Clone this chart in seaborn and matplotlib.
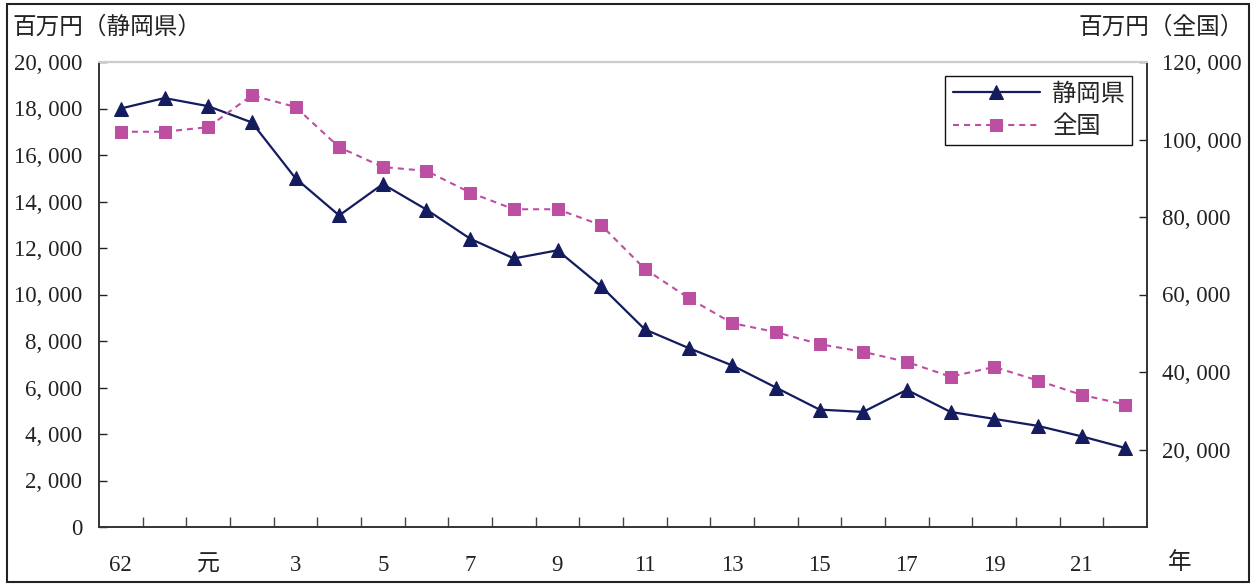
import matplotlib
matplotlib.use("Agg")
import matplotlib.pyplot as plt
from matplotlib.patches import Rectangle
from matplotlib.ticker import FixedLocator, FuncFormatter
import numpy as np
import pandas as pd
import seaborn as sns

# Fiscal years (Showa 62 .. Heisei 22)
years = ["62", "63", "元", "2", "3", "4", "5", "6", "7", "8", "9", "10",
         "11", "12", "13", "14", "15", "16", "17", "18", "19", "20", "21", "22"]

# Millions of yen
shizuoka = [18000, 18450, 18100, 17400, 15000, 13400, 14750, 13650, 12400,
            11550, 11900, 10350, 8500, 7700, 6950, 6000, 5050, 4950, 5900,
            4950, 4650, 4350, 3900, 3400]
national = [102000, 102000, 103200, 111400, 108400, 98000, 92900, 91900,
            86300, 82000, 82000, 77900, 66600, 59100, 52600, 50300, 47200,
            45200, 42600, 38800, 41300, 37800, 34100, 31600]

left_label = "百万円（静岡県）"
right_label = "百万円（全国）"
year_unit = "年"
series_names = ["静岡県", "全国"]

NAVY = "#141B5E"
MAGENTA = "#BD4FA3"
INK = "#222222"

sns.set_theme(style="white")
plt.rcParams["font.family"] = ["Liberation Serif", "Noto Sans CJK JP"]
plt.rcParams["axes.unicode_minus"] = False

df = pd.DataFrame({"pos": np.arange(len(years)), "year": years,
                   "shizuoka": shizuoka, "national": national})

fig = plt.figure(figsize=(12.57, 5.84), dpi=100)
ax = fig.add_axes([99 / 1257, 1 - 527 / 584, 1048 / 1257, 465 / 584])
ax2 = ax.twinx()

sns.lineplot(data=df, x="pos", y="shizuoka", ax=ax, color=NAVY, lw=1.6,
             marker="^", markersize=10.5, markeredgecolor=NAVY,
             label=series_names[0], legend=False)
sns.lineplot(data=df, x="pos", y="national", ax=ax2, color=MAGENTA, lw=1.5,
             linestyle=(0, (2.9, 2.4)), marker="s", markersize=8.5,
             markeredgecolor=MAGENTA, label=series_names[1], legend=False)

n = len(years)
for a in (ax, ax2):
    a.set_xlim(-0.5, n - 0.5)
    a.set_xlabel("")
    a.set_ylabel("")

ax.set_ylim(0, 20000)
ax2.set_ylim(0, 120000)

fmt = FuncFormatter(lambda v, p: f"{int(v):,}".replace(",", ", "))
ax.yaxis.set_major_locator(FixedLocator(np.arange(0, 20001, 2000)))
ax.yaxis.set_major_formatter(fmt)
ax2.yaxis.set_major_locator(FixedLocator(np.arange(20000, 120001, 20000)))
ax2.yaxis.set_major_formatter(fmt)

# Year labels on every other category, boundary ticks between categories
ax.set_xticks(df["pos"][::2])
ax.set_xticklabels(df["year"][::2])
ax.set_xticks(np.arange(0.5, n - 1, 1.0), minor=True)
ax.tick_params(axis="x", which="major", length=0, pad=20, labelsize=16.5,
               colors=INK)
ax.tick_params(axis="x", which="minor", direction="in", length=7, width=1,
               color="#444444", bottom=True)
ax.tick_params(axis="y", direction="in", length=6, width=1, pad=12,
               labelsize=16.5, colors=INK, left=True)
ax2.tick_params(axis="y", direction="in", length=6, width=1, pad=11,
                labelsize=16.5, colors=INK, right=True)

for a in (ax, ax2):
    for side in ("left", "right", "bottom"):
        a.spines[side].set_color("#333333")
        a.spines[side].set_linewidth(1.2)
    a.spines["top"].set_color("#cccccc")
    a.spines["top"].set_linewidth(1.5)

# Axis unit captions and year marker
fig.text(12 / 1257, 1 - 27 / 584, left_label, ha="left", va="center",
         fontsize=17, color=INK)
fig.text(1244 / 1257, 1 - 27 / 584, right_label, ha="right", va="center",
         fontsize=17, color=INK)
fig.text(1180 / 1257, 1 - 563 / 584, year_unit, ha="center", va="center",
         fontsize=17, color=INK)

h1, l1 = ax.get_legend_handles_labels()
h2, l2 = ax2.get_legend_handles_labels()
leg = ax2.legend(h1 + h2, l1 + l2, loc="upper right",
                 bbox_to_anchor=(0.986, 0.970), borderaxespad=0,
                 fontsize=17.5, handlelength=3.6, labelspacing=0.4,
                 fancybox=False, framealpha=1, edgecolor="#111111",
                 borderpad=0.3, handletextpad=0.5)
leg.get_frame().set_linewidth(1.0)

# Outer frame around the whole figure
fig.patches.append(Rectangle((7 / 1257, 2 / 584), 1242 / 1257, 578 / 584,
                             transform=fig.transFigure, fill=False,
                             edgecolor=INK, linewidth=1.5))

fig.savefig("out.png", dpi=100)
